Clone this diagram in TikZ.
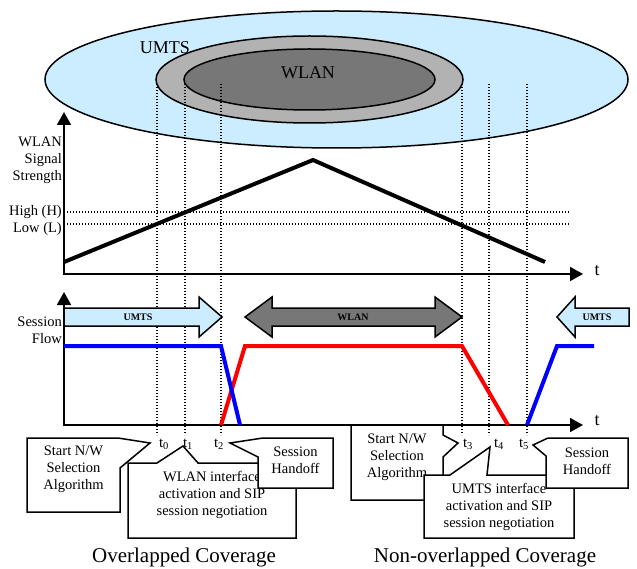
\documentclass[tikz,border=0pt]{standalone}
\usepackage{fontspec}
\setmainfont{Liberation Serif}
\usetikzlibrary{arrows.meta}
\definecolor{umtsblue}{HTML}{CCECFF}
\definecolor{ringgray}{HTML}{B2B2B2}
\definecolor{wlangray}{HTML}{777777}
\definecolor{flowblue}{HTML}{0000FF}
\definecolor{flowred}{HTML}{FF0000}
\tikzset{
  axisline/.style={line width=1.8pt, -{Triangle[length=13pt,width=14pt]}},
  guide/.style={line width=1.1pt, dash pattern=on 1.1pt off 1.9pt},
  cov/.style={draw=black, line width=1.5pt},
  callout/.style={fill=white, draw=black, line width=1.5pt, line join=miter},
  bigarrow/.style={draw=black, line width=1.5pt, line join=miter},
  lbl/.style={font=\fontsize{14.5}{16.8}\selectfont, inner sep=0pt},
  tlbl/.style={font=\fontsize{15}{17}\selectfont, inner sep=0pt},
  arrlbl/.style={font=\fontsize{10}{12}\selectfont\bfseries, inner sep=0pt},
  biglbl/.style={font=\fontsize{18}{20}\selectfont, inner sep=0pt},
  caption/.style={font=\fontsize{21}{24}\selectfont, inner sep=0pt},
  flow/.style={line width=4pt, line join=miter},
}
\begin{document}
\begin{tikzpicture}[x=1pt,y=-1pt]
\useasboundingbox (0,0) rectangle (637,569);

% coverage areas
\draw[cov, fill=umtsblue] (336.5,79.5) ellipse [x radius=291.5pt, y radius=68.5pt];
\draw[cov, fill=ringgray] (309.5,79.5) ellipse [x radius=153.5pt, y radius=43.5pt];
\draw[cov, fill=wlangray] (309.5,79.5) ellipse [x radius=125.5pt, y radius=30.5pt];
\node[biglbl] (umtslbl) at (165,48) {UMTS};
\node[biglbl] (wlanlbl) at (308,73) {WLAN};

% time markers
\foreach \xx/\nm in {157/a,185/b,221/c,462/d,489/e,527/f}{
  \coordinate (top\nm) at (\xx,84);
  \coordinate (bot\nm) at (\xx,435);
  \draw[guide] (top\nm) -- (bot\nm);
}

% upper graph
\coordinate (o1) at (64,274);
\coordinate (y1) at (64,112);
\coordinate (x1) at (583,274);
\draw[guide] (64,212) -- (570,212);
\draw[guide] (64,224) -- (570,224);
\draw[axisline] (o1) -- (y1);
\draw[axisline] ([xshift=-1pt]o1) -- (x1);
\draw[line width=4pt] (64,262) -- (313,160) -- (545,262);
\node[lbl, anchor=east, align=right] (sigl) at (62,160) {WLAN\\Signal\\Strength};
\node[lbl, anchor=east] (highl) at (62,212) {High (H)};
\node[lbl, anchor=east] (lowl) at (62,229) {Low (L)};
\node[biglbl] (t1lbl) at (597,271) {t};

% lower graph
\coordinate (o2) at (64,425);
\coordinate (y2) at (64,292);
\coordinate (x2) at (583,425);
\draw[axisline] (o2) -- (y2);
\draw[axisline] ([xshift=-1pt]o2) -- (x2);
\node[lbl, anchor=east, align=right] (sfl) at (62,330) {Session\\Flow};
\node[biglbl] (t2lbl) at (597,421) {t};

% session arrows
\draw[bigarrow, fill=umtsblue] (64,308) -- (199,308) -- (199,297) -- (222,317) -- (199,337) -- (199,326) -- (64,326) -- cycle;
\node[arrlbl] (ua1) at (138,317) {UMTS};
\draw[bigarrow, fill=wlangray] (245,317) -- (272,297) -- (272,308) -- (435,308) -- (435,297) -- (462,317) -- (435,337) -- (435,326) -- (272,326) -- (272,337) -- cycle;
\node[arrlbl] (wa) at (353,317) {WLAN};
\draw[bigarrow, fill=umtsblue] (557,317) -- (575,297) -- (575,308) -- (629,308) -- (629,326) -- (575,326) -- (575,337) -- cycle;
\node[arrlbl] (ua2) at (597,317) {UMTS};

% flows
\draw[flow, flowred] (221,425) -- (245,346) -- (462,346) -- (508,425);
\draw[flow, flowblue] (64,346) -- (221,346) -- (240,425);
\draw[flow, flowblue] (527,425) -- (557,346) -- (594,346);

% time labels
\node[tlbl] (l0) at (164,444) {t\textsubscript{0}};
\node[tlbl] (l1) at (188,444) {t\textsubscript{1}};
\node[tlbl] (l2) at (219,444) {t\textsubscript{2}};
\node[tlbl] (l3) at (468,444) {t\textsubscript{3}};
\node[tlbl] (l4) at (499,444) {t\textsubscript{4}};
\node[tlbl] (l5) at (524,444) {t\textsubscript{5}};

% callouts, overlapped coverage
\draw[callout] (27,438) -- (118,438) -- (150,443) -- (120,468) -- (120,512) -- (27,512) -- cycle;
\node[lbl, align=center] (c1) at (73.5,469) {Start N/W\\Selection\\Algorithm};
\draw[callout] (128,463) -- (157,463) -- (183,446) -- (198,463) -- (296,463) -- (296,538) -- (128,538) -- cycle;
\node[lbl, align=center] (c2) at (212,495) {WLAN interface\\activation and SIP\\session negotiation};
\draw[callout] (263,438) -- (333,438) -- (333,488) -- (258,488) -- (258,457) -- (230,443) -- cycle;
\node[lbl, align=center] (c3) at (295.5,460) {Session\\Handoff};

% callouts, non-overlapped coverage
\draw[callout] (351,425) -- (443,425) -- (443,435) -- (458,443) -- (443,457) -- (443,500) -- (351,500) -- cycle;
\node[lbl, align=center] (c4) at (397,457) {Start N/W\\Selection\\Algorithm};
\draw[callout] (424,475) -- (450,475) -- (490,447) -- (487,475) -- (574,475) -- (574,538) -- (424,538) -- cycle;
\node[lbl, align=center] (c5) at (499,507) {UMTS interface\\activation and SIP\\session negotiation};
\draw[callout] (548,438) -- (628,438) -- (628,488) -- (546,488) -- (546,456) -- (533,445) -- cycle;
\node[lbl, align=center] (c6) at (587,461) {Session\\Handoff};

% captions
\node[caption] (cap1) at (184,557) {Overlapped Coverage};
\node[caption] (cap2) at (485,557) {Non-overlapped Coverage};
\end{tikzpicture}
\end{document}
